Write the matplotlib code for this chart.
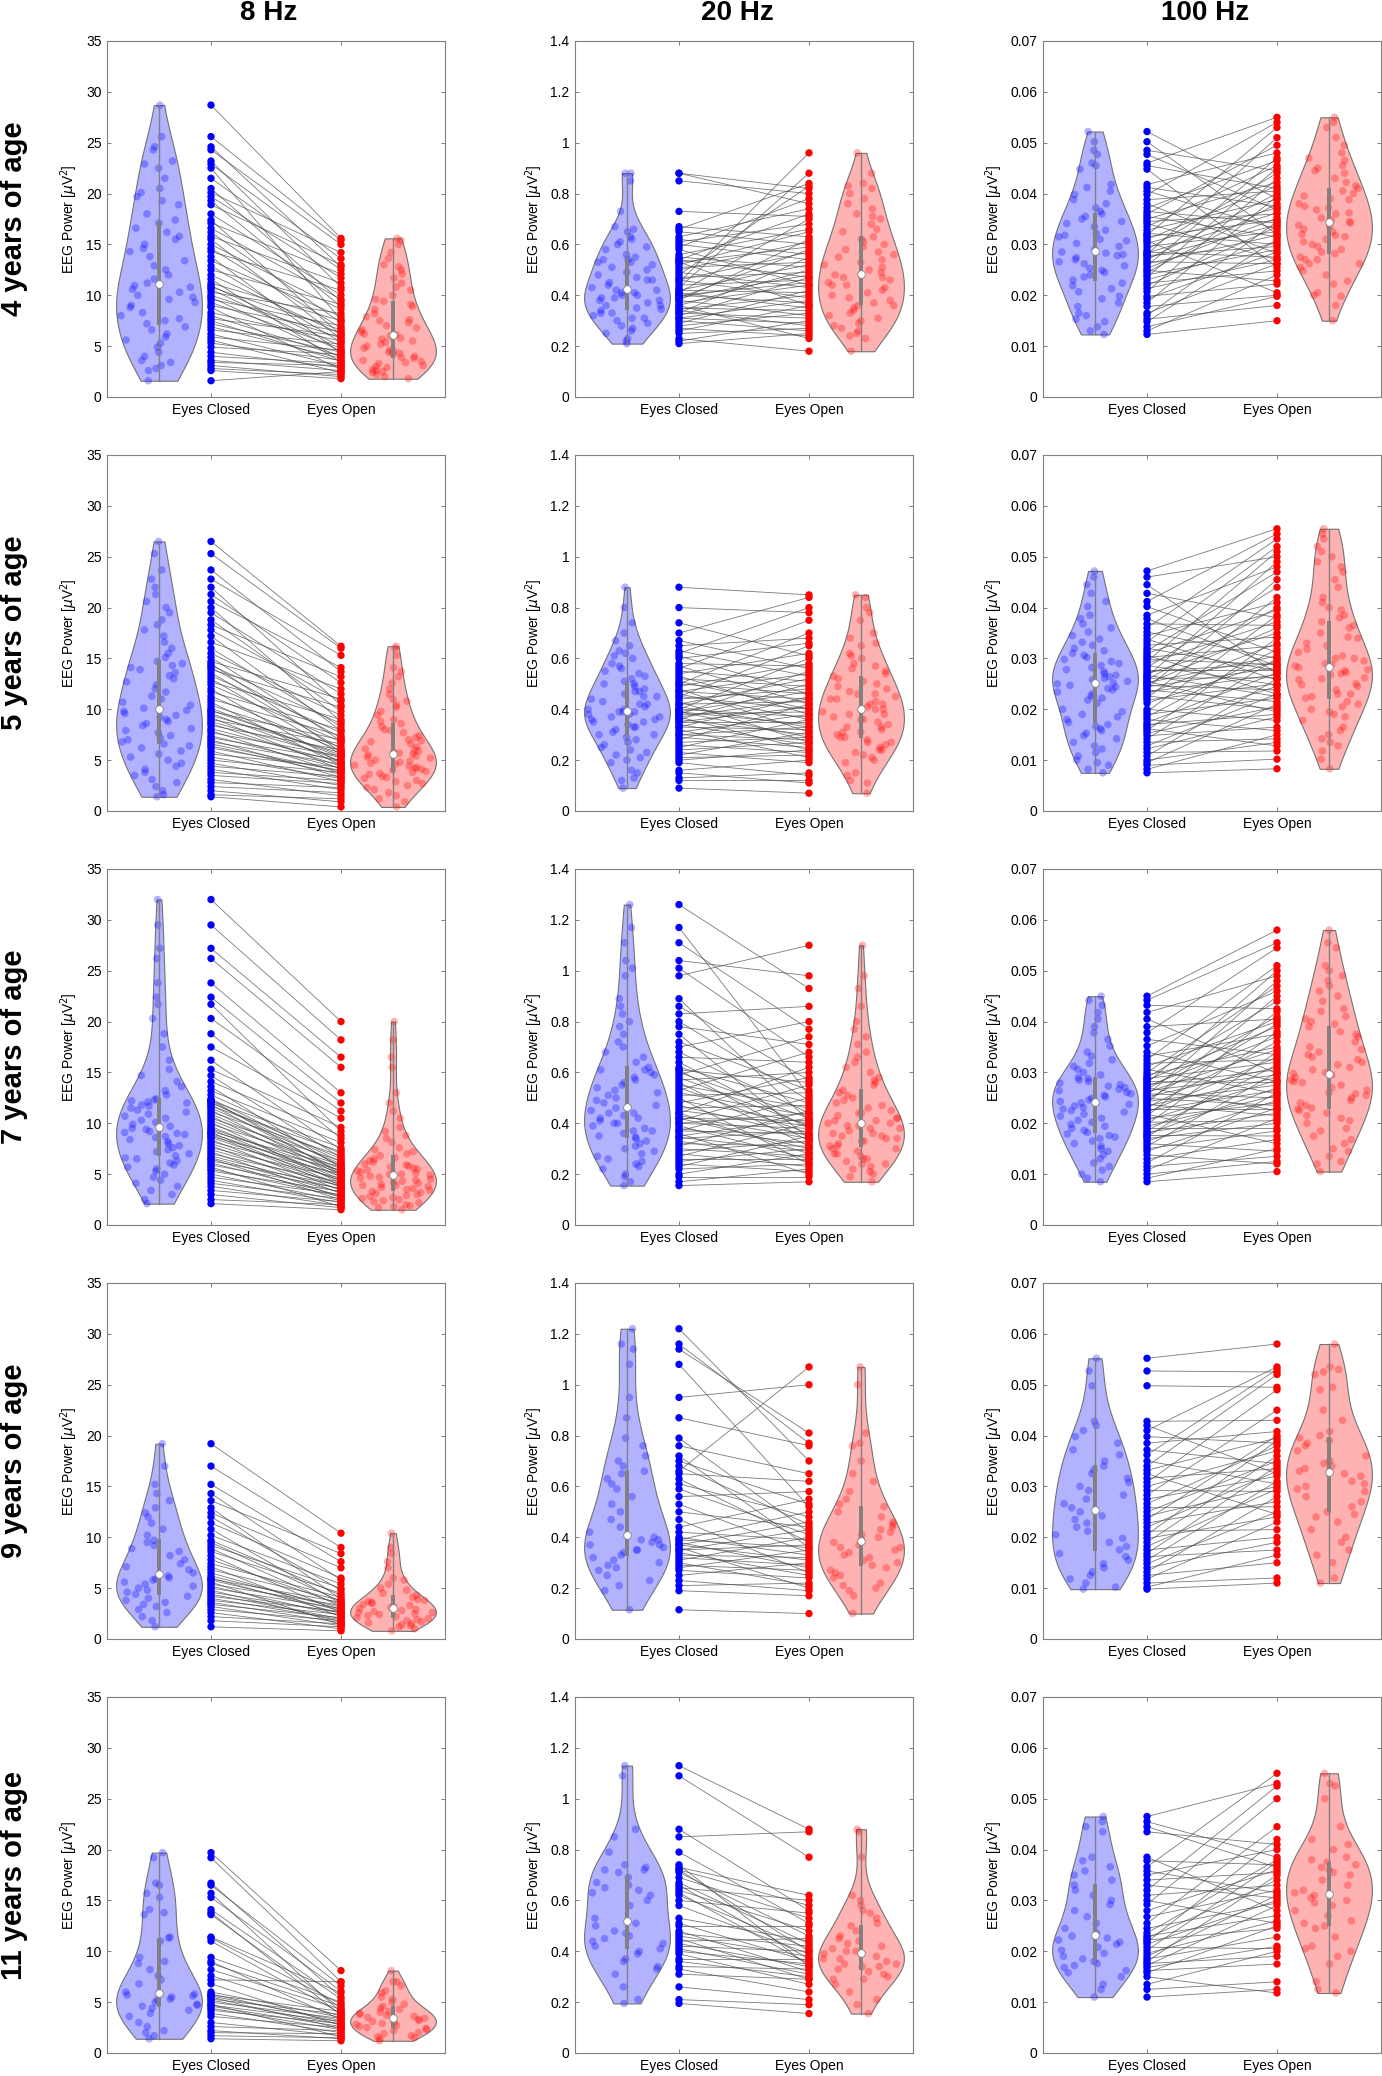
import numpy as np
import matplotlib
matplotlib.use('Agg')
import matplotlib.pyplot as plt
from matplotlib import mlab
from matplotlib.collections import LineCollection

plt.rcParams['font.family'] = ['Liberation Sans', 'DejaVu Sans']
plt.rcParams['mathtext.fontset'] = 'dejavusans'

freqs = ['8 Hz', '20 Hz', '100 Hz']
ages = ['4 years of age', '5 years of age', '7 years of age', '9 years of age', '11 years of age']
conditions = ['Eyes Closed', 'Eyes Open']

yticks_8hz = [0, 5, 10, 15, 20, 25, 30, 35]
ylabels_8hz = ['0', '5', '10', '15', '20', '25', '30', '35']
yticks_20hz = [0, 0.2, 0.4, 0.6, 0.8, 1.0, 1.2, 1.4]
ylabels_20hz = ['0', '0.2', '0.4', '0.6', '0.8', '1', '1.2', '1.4']
yticks_100hz = [0, 0.01, 0.02, 0.03, 0.04, 0.05, 0.06, 0.07]
ylabels_100hz = ['0', '0.01', '0.02', '0.03', '0.04', '0.05', '0.06', '0.07']

# ---- 4 years ----
ec_8_4y = [1.6, 2.6, 2.8, 3.1, 3.4, 3.6, 4.0, 4.4, 4.9, 5.3, 5.6, 5.9, 6.2, 6.6, 6.9,
           7.2, 7.5, 7.7, 8.0, 8.3, 8.8, 9.0, 9.3, 9.6, 9.8, 10.0, 10.3, 10.6, 10.8, 10.95,
           11.2, 11.6, 12.0, 12.5, 12.9, 13.4, 13.8, 14.3, 14.6, 15.0, 15.5, 15.8, 16.2, 16.6, 17.1,
           17.4, 18.0, 18.9, 19.3, 19.7, 20.1, 20.5, 21.5, 22.5, 22.9, 23.2, 24.3, 24.6, 25.6, 28.7]
eo_8_4y = [2.5, 1.8, 2.2, 2.0, 3.1, 2.6, 3.3, 2.9, 4.2, 3.6, 2.4, 4.6, 3.0, 5.2, 3.8,
           4.4, 3.5, 6.0, 4.0, 5.5, 2.7, 6.4, 4.8, 7.0, 3.9, 5.8, 8.2, 4.5, 6.6, 5.0,
           7.5, 3.4, 6.2, 9.1, 5.4, 7.9, 4.3, 10.5, 6.8, 8.6, 5.7, 11.2, 7.3, 9.6, 12.1,
           6.1, 10.0, 13.0, 8.9, 11.7, 14.2, 9.4, 12.5, 7.6, 13.6, 10.8, 15.0, 12.8, 15.4, 15.6]
ec_20_4y = [0.21, 0.22, 0.23, 0.25, 0.26, 0.27, 0.28, 0.29, 0.30, 0.31, 0.31, 0.32, 0.33, 0.33, 0.34,
            0.345, 0.35, 0.36, 0.36, 0.37, 0.38, 0.38, 0.39, 0.39, 0.40, 0.40, 0.41, 0.41, 0.42, 0.42,
            0.43, 0.44, 0.45, 0.46, 0.46, 0.47, 0.48, 0.49, 0.50, 0.51, 0.52, 0.53, 0.53, 0.54, 0.54,
            0.55, 0.56, 0.58, 0.59, 0.60, 0.61, 0.62, 0.63, 0.65, 0.66, 0.67, 0.73, 0.85, 0.88, 0.88]
eo_20_4y = [0.25, 0.30, 0.18, 0.27, 0.36, 0.24, 0.33, 0.42, 0.26, 0.38, 0.29, 0.47, 0.31, 0.55, 0.28,
            0.40, 0.34, 0.50, 0.23, 0.44, 0.62, 0.32, 0.48, 0.58, 0.37, 0.45, 0.70, 0.35, 0.52, 0.41,
            0.88, 0.46, 0.96, 0.39, 0.57, 0.49, 0.83, 0.43, 0.61, 0.53, 0.65, 0.36, 0.59, 0.72, 0.47,
            0.51, 0.66, 0.44, 0.78, 0.54, 0.68, 0.56, 0.74, 0.60, 0.84, 0.63, 0.71, 0.80, 0.76, 0.82]
ec_100_4y = [0.0123, 0.0130, 0.0138, 0.0148, 0.0153, 0.0160, 0.0165, 0.0178, 0.0185, 0.0193, 0.0198, 0.0207, 0.0213, 0.0219, 0.0224,
             0.0230, 0.0236, 0.0240, 0.0245, 0.0249, 0.0253, 0.0258, 0.0262, 0.0266, 0.0270, 0.0274, 0.0278, 0.0280, 0.0283, 0.0285,
             0.0290, 0.0296, 0.0302, 0.0307, 0.0310, 0.0315, 0.0318, 0.0322, 0.0328, 0.0335, 0.0341, 0.0345, 0.0350, 0.0355, 0.0360,
             0.0365, 0.0372, 0.0380, 0.0388, 0.0398, 0.0405, 0.0412, 0.0418, 0.0448, 0.0455, 0.0460, 0.0477, 0.0485, 0.0502, 0.0522]
eo_100_4y = [0.0150, 0.0240, 0.0198, 0.0310, 0.0180, 0.0345, 0.0262, 0.0200, 0.0395, 0.0285, 0.0222, 0.0430, 0.0270, 0.0335, 0.0248,
             0.0305, 0.0450, 0.0290, 0.0380, 0.0228, 0.0352, 0.0470, 0.0318, 0.0262, 0.0400, 0.0338, 0.0296, 0.0510, 0.0362, 0.0275,
             0.0440, 0.0325, 0.0372, 0.0205, 0.0415, 0.0348, 0.0530, 0.0300, 0.0388, 0.0455, 0.0270, 0.0360, 0.0422, 0.0315, 0.0495,
             0.0342, 0.0465, 0.0282, 0.0405, 0.0540, 0.0330, 0.0375, 0.0480, 0.0255, 0.0410, 0.0550, 0.0368, 0.0445, 0.0320, 0.0390]

# ---- 5 years ----
ec_8_5y = [1.4, 1.6, 2.0, 2.4, 2.8, 3.1, 3.5, 3.8, 4.1, 4.4, 4.7, 5.0, 5.3, 5.6, 5.9, 6.2, 6.4,
           6.6, 6.8, 7.0, 7.2, 7.4, 7.7, 7.9, 8.1, 8.4, 8.6, 8.8, 9.0, 9.2, 9.4, 9.6, 9.8, 9.9,
           10.1, 10.4, 10.7, 11.0, 11.3, 11.7, 12.0, 12.4, 12.7, 13.0, 13.3, 13.6, 13.9, 14.1, 14.3, 14.5, 14.7,
           15.1, 15.5, 16.0, 16.6, 17.2, 17.8, 18.3, 18.8, 19.5, 20.0, 20.6, 21.3, 22.0, 22.8, 23.7, 25.3, 26.5]
eo_8_5y = [0.4, 1.2, 0.9, 1.8, 2.3, 1.5, 2.7, 3.0, 2.1, 3.4, 2.5, 3.8, 3.2, 4.3, 2.9, 4.0, 3.6,
           3.9, 4.6, 3.3, 5.0, 4.2, 5.4, 3.7, 4.8, 6.0, 4.4, 5.2, 6.6, 4.1, 5.7, 4.9, 7.0, 5.5,
           5.3, 6.3, 4.5, 7.4, 5.9, 8.0, 4.7, 6.8, 9.0, 5.6, 7.7, 6.1, 10.2, 7.2, 8.6, 5.8, 11.0,
           6.9, 9.4, 8.3, 12.0, 7.9, 10.8, 13.2, 9.8, 11.5, 8.8, 14.1, 12.6, 10.4, 15.3, 13.7, 16.0, 16.2]
ec_20_5y = [0.09, 0.12, 0.13, 0.15, 0.16, 0.19, 0.20, 0.21, 0.22, 0.23, 0.24, 0.25, 0.26, 0.27, 0.28, 0.29, 0.30,
            0.30, 0.31, 0.32, 0.33, 0.33, 0.34, 0.35, 0.35, 0.36, 0.36, 0.37, 0.37, 0.38, 0.38, 0.39, 0.39, 0.39,
            0.40, 0.40, 0.41, 0.42, 0.42, 0.43, 0.44, 0.45, 0.45, 0.46, 0.47, 0.47, 0.48, 0.49, 0.50, 0.50, 0.51,
            0.52, 0.53, 0.54, 0.55, 0.56, 0.57, 0.58, 0.60, 0.61, 0.62, 0.63, 0.65, 0.67, 0.70, 0.74, 0.80, 0.88]
eo_20_5y = [0.07, 0.12, 0.15, 0.11, 0.20, 0.14, 0.24, 0.22, 0.31, 0.19, 0.27, 0.36, 0.23, 0.29, 0.42, 0.25, 0.33,
            0.28, 0.38, 0.21, 0.45, 0.32, 0.26, 0.41, 0.35, 0.50, 0.30, 0.44, 0.24, 0.39, 0.55, 0.34, 0.47, 0.29,
            0.37, 0.60, 0.33, 0.43, 0.52, 0.27, 0.48, 0.40, 0.65, 0.36, 0.54, 0.44, 0.31, 0.58, 0.46, 0.70, 0.40,
            0.49, 0.38, 0.62, 0.51, 0.75, 0.42, 0.57, 0.66, 0.46, 0.80, 0.53, 0.68, 0.56, 0.84, 0.61, 0.78, 0.85]
ec_100_5y = [0.0075, 0.0082, 0.0090, 0.0095, 0.0100, 0.0108, 0.0115, 0.0122, 0.0128, 0.0135, 0.0142, 0.0148, 0.0153, 0.0158, 0.0162, 0.0166, 0.0170,
             0.0174, 0.0180, 0.0185, 0.0190, 0.0195, 0.0200, 0.0212, 0.0218, 0.0222, 0.0226, 0.0230, 0.0234, 0.0238, 0.0241, 0.0244, 0.0247, 0.0250,
             0.0252, 0.0255, 0.0258, 0.0261, 0.0264, 0.0267, 0.0270, 0.0274, 0.0278, 0.0282, 0.0286, 0.0290, 0.0294, 0.0298, 0.0302, 0.0306, 0.0310,
             0.0315, 0.0320, 0.0326, 0.0332, 0.0338, 0.0345, 0.0352, 0.0360, 0.0368, 0.0378, 0.0385, 0.0402, 0.0412, 0.0428, 0.0445, 0.0460, 0.0472]
eo_100_5y = [0.0083, 0.0150, 0.0102, 0.0210, 0.0135, 0.0260, 0.0118, 0.0185, 0.0230, 0.0142, 0.0300, 0.0165, 0.0205, 0.0340, 0.0128, 0.0245, 0.0190,
             0.0272, 0.0158, 0.0318, 0.0222, 0.0385, 0.0178, 0.0295, 0.0250, 0.0420, 0.0200, 0.0330, 0.0268, 0.0215, 0.0455, 0.0282, 0.0238, 0.0360,
             0.0305, 0.0195, 0.0400, 0.0262, 0.0490, 0.0225, 0.0350, 0.0290, 0.0278, 0.0440, 0.0248, 0.0372, 0.0510, 0.0288, 0.0325, 0.0230, 0.0395,
             0.0470, 0.0276, 0.0342, 0.0520, 0.0258, 0.0410, 0.0300, 0.0535, 0.0365, 0.0285, 0.0480, 0.0312, 0.0545, 0.0380, 0.0270, 0.0500, 0.0555]

# ---- 7 years ----
ec_8_7y = [2.1, 2.5, 3.0, 3.4, 3.8, 4.1, 4.4, 4.7, 5.0, 5.3, 5.5, 5.7, 5.9, 6.1, 6.3, 6.5, 6.6,
           6.8, 7.0, 7.2, 7.4, 7.6, 7.8, 8.0, 8.2, 8.4, 8.6, 8.7, 8.9, 9.0, 9.1, 9.2, 9.4, 9.5,
           9.7, 9.9, 10.1, 10.3, 10.5, 10.7, 10.9, 11.1, 11.3, 11.5, 11.7, 11.8, 12.0, 12.1, 12.2, 12.3, 12.4,
           12.8, 13.2, 13.6, 14.1, 14.7, 15.3, 16.2, 17.5, 18.8, 20.3, 21.7, 22.4, 23.8, 26.2, 27.2, 29.5, 32.0]
eo_8_7y = [1.5, 2.0, 1.7, 2.3, 1.9, 2.6, 2.2, 3.0, 2.4, 3.3, 2.8, 1.8, 3.6, 2.9, 3.9, 2.5, 3.2,
           3.5, 4.2, 2.7, 3.8, 4.6, 3.1, 4.0, 5.0, 3.4, 4.4, 5.4, 3.7, 4.8, 3.9, 5.7, 4.3, 5.1,
           4.5, 5.9, 4.1, 5.3, 6.3, 4.7, 5.5, 6.8, 4.9, 6.0, 7.2, 5.2, 6.5, 5.8, 7.6, 5.0, 6.2,
           7.0, 8.1, 5.6, 8.8, 6.6, 9.6, 7.4, 10.5, 8.5, 11.2, 9.2, 12.0, 13.0, 15.5, 16.5, 18.2, 20.0]
ec_20_7y = [0.155, 0.17, 0.19, 0.20, 0.22, 0.23, 0.24, 0.25, 0.26, 0.27, 0.28, 0.29, 0.30, 0.31, 0.32, 0.33, 0.34,
            0.345, 0.35, 0.36, 0.37, 0.37, 0.38, 0.39, 0.40, 0.40, 0.41, 0.42, 0.42, 0.43, 0.44, 0.44, 0.45, 0.46,
            0.47, 0.48, 0.49, 0.50, 0.51, 0.52, 0.53, 0.54, 0.55, 0.56, 0.57, 0.58, 0.59, 0.60, 0.61, 0.61, 0.62,
            0.64, 0.66, 0.68, 0.70, 0.72, 0.75, 0.78, 0.80, 0.83, 0.86, 0.89, 0.98, 1.01, 1.04, 1.11, 1.17, 1.26]
eo_20_7y = [0.17, 0.22, 0.19, 0.28, 0.24, 0.35, 0.21, 0.30, 0.26, 0.40, 0.23, 0.33, 0.27, 0.45, 0.31, 0.25, 0.37,
            0.29, 0.42, 0.20, 0.36, 0.50, 0.32, 0.26, 0.44, 0.38, 0.55, 0.30, 0.41, 0.34, 0.62, 0.28, 0.39, 0.47,
            0.35, 0.58, 0.40, 0.24, 0.52, 0.43, 0.68, 0.36, 0.46, 0.31, 0.60, 0.39, 0.74, 0.42, 0.33, 0.56, 0.48,
            0.38, 0.64, 0.44, 0.80, 0.53, 0.34, 0.71, 0.49, 0.86, 0.57, 0.41, 1.10, 0.66, 0.98, 0.77, 0.51, 0.93]
ec_100_7y = [0.0085, 0.0092, 0.0100, 0.0108, 0.0115, 0.0122, 0.0130, 0.0138, 0.0145, 0.0150, 0.0155, 0.0160, 0.0165, 0.0170, 0.0173, 0.0176, 0.0179,
             0.0182, 0.0186, 0.0190, 0.0194, 0.0198, 0.0202, 0.0206, 0.0210, 0.0214, 0.0218, 0.0222, 0.0225, 0.0228, 0.0231, 0.0234, 0.0237, 0.0240,
             0.0243, 0.0246, 0.0249, 0.0252, 0.0255, 0.0258, 0.0261, 0.0264, 0.0267, 0.0270, 0.0273, 0.0276, 0.0279, 0.0282, 0.0285, 0.0288, 0.0290,
             0.0295, 0.0300, 0.0306, 0.0312, 0.0318, 0.0325, 0.0332, 0.0340, 0.0352, 0.0365, 0.0378, 0.0390, 0.0405, 0.0418, 0.0432, 0.0442, 0.0450]
eo_100_7y = [0.0105, 0.0150, 0.0125, 0.0210, 0.0135, 0.0260, 0.0168, 0.0120, 0.0230, 0.0185, 0.0300, 0.0145, 0.0245, 0.0200, 0.0340, 0.0175, 0.0270,
             0.0220, 0.0315, 0.0190, 0.0255, 0.0380, 0.0205, 0.0285, 0.0240, 0.0420, 0.0160, 0.0330, 0.0265, 0.0228, 0.0360, 0.0290, 0.0215, 0.0450,
             0.0275, 0.0395, 0.0235, 0.0310, 0.0480, 0.0250, 0.0345, 0.0295, 0.0410, 0.0225, 0.0370, 0.0305, 0.0500, 0.0280, 0.0390, 0.0320, 0.0440,
             0.0350, 0.0470, 0.0258, 0.0400, 0.0325, 0.0510, 0.0375, 0.0282, 0.0460, 0.0335, 0.0545, 0.0405, 0.0298, 0.0490, 0.0425, 0.0555, 0.0580]

# ---- 9 years ----
ec_8_9y = [1.2, 1.8, 2.2, 2.6, 2.9, 3.2, 3.4, 3.6, 3.8, 4.0, 4.2,
           4.4, 4.6, 4.8, 5.0, 5.2, 5.4, 5.6, 5.8, 5.9, 6.0, 6.2,
           6.5, 6.8, 7.1, 7.4, 7.8, 8.2, 8.6, 8.9, 9.2, 9.5, 9.7,
           10.2, 10.8, 11.4, 12.0, 12.4, 12.9, 13.6, 14.3, 15.2, 17.0, 19.2]
eo_8_9y = [0.8, 1.2, 1.5, 1.0, 1.8, 1.3, 2.1, 1.6, 2.4, 1.9, 2.7,
           2.0, 2.6, 1.7, 3.0, 2.3, 3.3, 1.4, 2.8, 3.6, 2.5, 3.1,
           2.9, 3.8, 2.2, 4.1, 3.4, 2.6, 4.5, 3.2, 5.0, 3.7, 4.3,
           5.4, 3.5, 6.0, 4.8, 7.0, 3.9, 8.4, 5.8, 7.6, 9.0, 10.4]
ec_20_9y = [0.115, 0.19, 0.21, 0.23, 0.25, 0.27, 0.28, 0.29, 0.30, 0.31, 0.32,
            0.33, 0.34, 0.35, 0.35, 0.36, 0.37, 0.37, 0.38, 0.39, 0.39, 0.40,
            0.42, 0.44, 0.47, 0.50, 0.53, 0.56, 0.59, 0.61, 0.63, 0.65, 0.66,
            0.68, 0.70, 0.72, 0.76, 0.79, 0.87, 0.95, 1.08, 1.14, 1.16, 1.22]
eo_20_9y = [0.10, 0.17, 0.22, 0.19, 0.30, 0.24, 0.35, 0.27, 0.21, 0.40, 0.29,
            0.32, 0.25, 0.43, 0.37, 0.20, 0.46, 0.31, 0.28, 0.50, 0.36, 0.33,
            0.39, 0.55, 0.26, 0.44, 0.34, 0.58, 0.41, 0.48, 0.38, 0.62, 1.07,
            0.45, 0.53, 0.36, 0.65, 0.42, 0.76, 1.00, 0.52, 0.81, 0.77, 0.70]
ec_100_9y = [0.0098, 0.0102, 0.0110, 0.0118, 0.0125, 0.0132, 0.0140, 0.0148, 0.0155, 0.0162, 0.0168,
             0.0175, 0.0182, 0.0190, 0.0198, 0.0205, 0.0212, 0.0220, 0.0228, 0.0235, 0.0242, 0.0250,
             0.0258, 0.0266, 0.0275, 0.0283, 0.0292, 0.0300, 0.0308, 0.0316, 0.0325, 0.0332, 0.0340,
             0.0350, 0.0362, 0.0372, 0.0385, 0.0398, 0.0410, 0.0420, 0.0428, 0.0498, 0.0527, 0.0552]
eo_100_9y = [0.0110, 0.0165, 0.0120, 0.0230, 0.0150, 0.0280, 0.0190, 0.0250, 0.0310, 0.0175, 0.0340,
             0.0200, 0.0295, 0.0360, 0.0240, 0.0390, 0.0215, 0.0330, 0.0270, 0.0400, 0.0300, 0.0350,
             0.0260, 0.0380, 0.0320, 0.0450, 0.0290, 0.0370, 0.0490, 0.0335, 0.0245, 0.0395, 0.0520,
             0.0305, 0.0530, 0.0345, 0.0408, 0.0385, 0.0535, 0.0325, 0.0430, 0.0495, 0.0525, 0.0580]

# ---- 11 years ----
ec_8_11y = [1.4, 1.7, 2.0, 2.2, 2.6, 3.0, 3.6, 3.9, 4.2, 4.4,
            4.6, 4.7, 4.8, 5.0, 5.2, 5.3, 5.5, 5.6, 5.7, 5.8,
            6.0, 6.8, 7.2, 7.6, 8.2, 8.8, 9.0, 9.4, 11.0, 11.3,
            11.4, 13.6, 13.8, 14.1, 15.3, 15.7, 16.5, 16.7, 19.2, 19.7]
eo_8_11y = [1.2, 1.5, 1.9, 1.4, 2.2, 1.7, 2.5, 2.0, 2.9, 2.3,
            2.6, 3.1, 1.6, 3.4, 2.8, 3.8, 2.4, 3.2, 4.1, 3.0,
            3.5, 2.7, 7.0, 3.6, 4.3, 4.6, 3.3, 5.0, 3.9, 4.8,
            5.9, 4.4, 3.7, 5.3, 6.1, 4.0, 6.6, 5.5, 7.0, 8.1]
ec_20_11y = [0.195, 0.21, 0.26, 0.31, 0.33, 0.34, 0.36, 0.37, 0.39, 0.40,
             0.41, 0.42, 0.43, 0.44, 0.45, 0.46, 0.47, 0.48, 0.50, 0.51,
             0.53, 0.58, 0.60, 0.62, 0.63, 0.64, 0.65, 0.66, 0.67, 0.69,
             0.71, 0.72, 0.72, 0.73, 0.74, 0.79, 0.85, 0.88, 1.09, 1.13]
eo_20_11y = [0.155, 0.19, 0.21, 0.29, 0.24, 0.33, 0.30, 0.37, 0.27, 0.35,
             0.31, 0.40, 0.34, 0.45, 0.29, 0.38, 0.42, 0.32, 0.50, 0.36,
             0.44, 0.39, 0.55, 0.41, 0.35, 0.48, 0.60, 0.37, 0.43, 0.53,
             0.46, 0.58, 0.40, 0.62, 0.34, 0.51, 0.87, 0.56, 0.77, 0.88]
ec_100_11y = [0.0110, 0.0125, 0.0135, 0.0150, 0.0158, 0.0162, 0.0168, 0.0172, 0.0176, 0.0180,
              0.0185, 0.0190, 0.0196, 0.0202, 0.0208, 0.0214, 0.0218, 0.0222, 0.0226, 0.0230,
              0.0236, 0.0245, 0.0255, 0.0268, 0.0280, 0.0292, 0.0300, 0.0310, 0.0320, 0.0330,
              0.0340, 0.0350, 0.0358, 0.0366, 0.0378, 0.0385, 0.0435, 0.0445, 0.0455, 0.0465]
eo_100_11y = [0.0125, 0.0140, 0.0200, 0.0118, 0.0250, 0.0175, 0.0210, 0.0290, 0.0190, 0.0350,
              0.0228, 0.0310, 0.0260, 0.0375, 0.0205, 0.0300, 0.0420, 0.0245, 0.0340, 0.0270,
              0.0380, 0.0295, 0.0445, 0.0320, 0.0360, 0.0500, 0.0255, 0.0330, 0.0525, 0.0305,
              0.0355, 0.0400, 0.0315, 0.0550, 0.0370, 0.0280, 0.0410, 0.0365, 0.0385, 0.0530]

panels = [
    [(ec_8_4y, eo_8_4y), (ec_20_4y, eo_20_4y), (ec_100_4y, eo_100_4y)],
    [(ec_8_5y, eo_8_5y), (ec_20_5y, eo_20_5y), (ec_100_5y, eo_100_5y)],
    [(ec_8_7y, eo_8_7y), (ec_20_7y, eo_20_7y), (ec_100_7y, eo_100_7y)],
    [(ec_8_9y, eo_8_9y), (ec_20_9y, eo_20_9y), (ec_100_9y, eo_100_9y)],
    [(ec_8_11y, eo_8_11y), (ec_20_11y, eo_20_11y), (ec_100_11y, eo_100_11y)],
]
col_ticks = [(yticks_8hz, ylabels_8hz), (yticks_20hz, ylabels_20hz), (yticks_100hz, ylabels_100hz)]

blue = (0.0, 0.0, 1.0)
red = (1.0, 0.0, 0.0)
gray = (0.5, 0.5, 0.5)
vwidth = 0.66


def jitter(n, seed):
    # deterministic hash spread for the points inside a violin
    i = np.arange(n) + seed
    return (np.abs(np.sin(i * 12.9898 + 78.233) * 43758.5453) % 1.0) * 2 - 1


def violin(ax, vals, pos, color, seed):
    vals = np.asarray(vals, dtype=float)
    parts = ax.violinplot(vals, positions=[pos], widths=vwidth, showextrema=False)
    body = parts['bodies'][0]
    body.set_alpha(None)
    body.set_facecolor((*color, 0.3))
    body.set_edgecolor((0.45, 0.45, 0.45, 1.0))
    body.set_linewidth(0.8)
    body.set_zorder(1)

    kde = mlab.GaussianKDE(vals, 'scott')
    grid = np.linspace(vals.min(), vals.max(), 100)
    dmax = kde.evaluate(grid).max()
    dens = kde.evaluate(vals) / dmax
    xs = pos + jitter(len(vals), seed) * dens * vwidth / 2 * 0.92
    ax.scatter(xs, vals, s=30, color=color, alpha=0.3, edgecolors='none', zorder=2)

    q1, med, q3 = np.percentile(vals, [25, 50, 75])
    ax.plot([pos, pos], [vals.min(), vals.max()], color=gray, lw=1.0, zorder=3)
    ax.plot([pos, pos], [q1, q3], color=gray, lw=2.8, solid_capstyle='butt', zorder=4)
    ax.plot([pos], [med], 'o', mfc='white', mec=gray, mew=0.6, ms=5.5, zorder=5)


W, H = 1382, 2076
fig = plt.figure(figsize=(W / 100, H / 100), dpi=100)
col_left = [107, 575, 1043]
row_top = [41, 455, 869, 1283, 1697]
aw, ah = 338, 356

for r, row in enumerate(panels):
    for c, (ec, eo) in enumerate(row):
        ax = fig.add_axes([col_left[c] / W, 1 - (row_top[r] + ah) / H, aw / W, ah / H])
        segs = [[(1, a), (2, b)] for a, b in zip(ec, eo)]
        ax.add_collection(LineCollection(segs, colors=[(0.3, 0.3, 0.3)], linewidths=0.6,
                                         alpha=0.75, zorder=2))
        ax.scatter(np.ones(len(ec)), ec, s=28, color=blue, edgecolors='none', zorder=3)
        ax.scatter(np.full(len(eo), 2), eo, s=28, color=red, edgecolors='none', zorder=3)
        violin(ax, ec, 0.6, blue, seed=r * 31 + c * 7)
        violin(ax, eo, 2.4, red, seed=r * 31 + c * 7 + 500)

        ticks, labels = col_ticks[c]
        ax.set_xlim(0.2, 2.8)
        ax.set_ylim(ticks[0], ticks[-1])
        ax.set_yticks(ticks)
        ax.set_yticklabels(labels, fontsize=10)
        ax.set_xticks([1, 2])
        ax.set_xticklabels(conditions, fontsize=10)
        ax.tick_params(direction='in', length=3, width=0.6, top=True, right=True,
                       color=(0.4, 0.4, 0.4), pad=4)
        for s in ax.spines.values():
            s.set_color((0.5, 0.5, 0.5))
            s.set_linewidth(0.8)
        ax.set_ylabel(r'EEG Power [$\mu$V$^2$]', fontsize=10, labelpad=4)

for c, f in enumerate(freqs):
    fig.text((col_left[c] + aw / 2 - 7) / W, 1 - 13 / H, f, ha='center', va='center',
             fontsize=20, fontweight='bold')
for r, a in enumerate(ages):
    fig.text(14 / W, 1 - (row_top[r] + ah / 2) / H, a, rotation=90, ha='center',
             va='center', fontsize=21, fontweight='bold')

fig.savefig('out.png', dpi=100)
